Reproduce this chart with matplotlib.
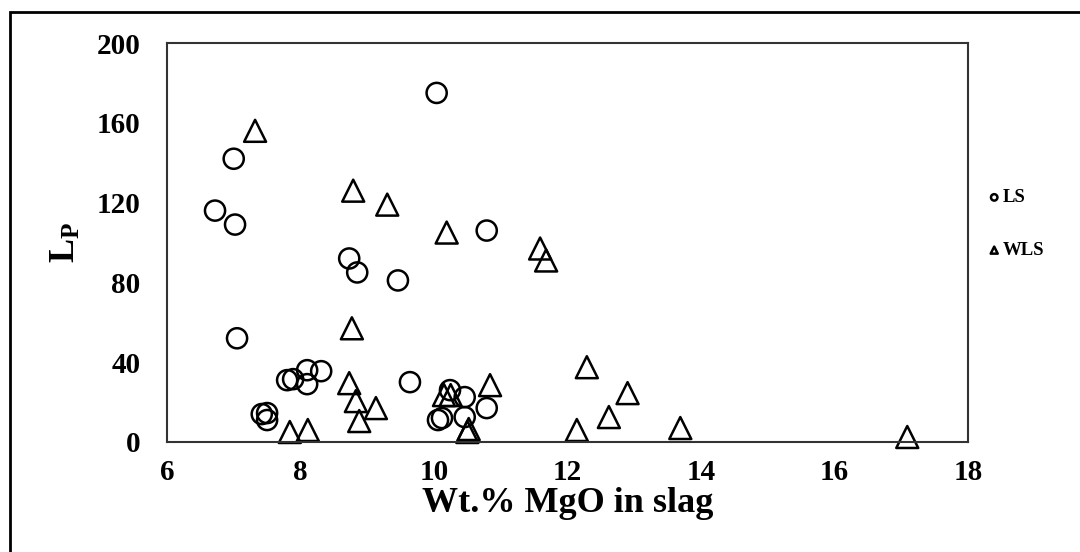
import matplotlib
matplotlib.use("Agg")
import matplotlib.pyplot as plt
from matplotlib.patches import Rectangle

# %% data (Wt.% MgO, L_P)
ls_mgo = [6.72, 7.0, 7.02, 7.05, 10.04, 8.73, 8.85, 9.46, 10.79, 9.64,
          7.80, 7.89, 8.10, 8.10, 8.31, 7.42, 7.50, 7.50,
          10.24, 10.46, 10.06, 10.12, 10.46, 10.79]
ls_lp = [116, 142, 109, 52, 175, 92, 85, 81, 106, 30,
         31, 31.5, 36, 29, 35.5, 14, 14.5, 11,
         26, 22.5, 11, 12, 12.5, 17]

wls_mgo = [7.32, 8.79, 9.30, 10.19, 11.59, 11.68, 8.77, 8.73, 8.83, 9.13,
           8.88, 7.84, 8.11, 10.15, 10.25, 10.50, 10.52, 10.84, 12.29, 12.90,
           12.62, 12.14, 13.69, 17.09]
wls_lp = [156, 126, 119, 105, 97, 91, 57, 29.5, 20.5, 17,
          10.5, 5, 6, 23.5, 23.5, 5, 6.5, 28.5, 37.5, 24.5,
          12.5, 6, 7, 2.5]

x_ticks = [6, 8, 10, 12, 14, 16, 18]
y_ticks = [0, 40, 80, 120, 160, 200]

plt.rcParams['font.family'] = ['Liberation Serif', 'DejaVu Serif']
plt.rcParams['font.weight'] = 'bold'
plt.rcParams['mathtext.fontset'] = 'custom'
plt.rcParams['mathtext.bf'] = 'Liberation Serif:bold'
plt.rcParams['mathtext.rm'] = 'Liberation Serif'

fig = plt.figure(figsize=(10.8, 5.52), dpi=100)
ax = fig.add_axes([0.1546, 0.1993, 0.7417, 0.7227])

ax.scatter(ls_mgo, ls_lp, s=210, marker='o', facecolors='none',
           edgecolors='black', linewidths=1.8, label='LS', clip_on=False)
ax.scatter(wls_mgo, wls_lp, s=250, marker='^', facecolors='none',
           edgecolors='black', linewidths=1.8, label='WLS', clip_on=False)

ax.set_xlim(6, 18)
ax.set_ylim(0, 200)
ax.set_xticks(x_ticks)
ax.set_yticks(y_ticks)
ax.tick_params(length=0, labelsize=21)
ax.tick_params(axis='y', pad=19)
ax.tick_params(axis='x', pad=12)
for lab in ax.get_xticklabels() + ax.get_yticklabels():
    lab.set_fontweight('bold')
for sp in ax.spines.values():
    sp.set_linewidth(1.5)
    sp.set_color('#333333')

ax.set_xlabel('Wt.% MgO in slag', fontsize=26, fontweight='bold', labelpad=1)
ax.set_ylabel(r'$\mathbf{L_P}$', fontsize=26, labelpad=10)

leg = ax.legend(loc='center left', bbox_to_anchor=(0.898, 0.594),
                bbox_transform=fig.transFigure, frameon=False,
                markerscale=0.32, handletextpad=0.05, labelspacing=1.9,
                handlelength=0.8, prop={'size': 13.5, 'weight': 'bold'})

# outer frame round the whole picture
fig.patches.append(Rectangle((10 / 1080, -0.1), 1.2, 1.1 - 12 / 552,
                             transform=fig.transFigure, fill=False,
                             edgecolor='black', linewidth=2))

fig.savefig('out.png', dpi=100)
